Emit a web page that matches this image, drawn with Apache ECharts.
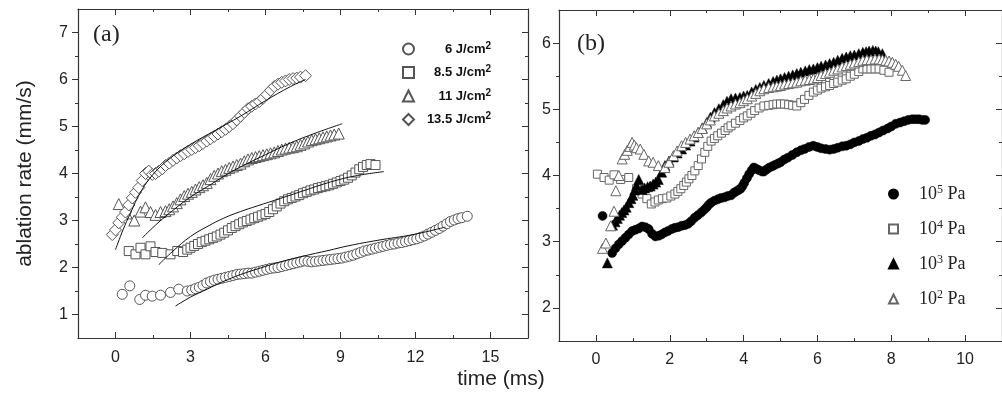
<!DOCTYPE html>
<html>
<head>
<meta charset="utf-8">
<script src="https://cdn.jsdelivr.net/npm/echarts@6/dist/echarts.min.js"></script>
<style>
  html, body { margin: 0; padding: 0; background: #fff; }
  #chart { width: 1002px; height: 405px; }
</style>
</head>
<body>
<div id="chart"></div>
<script>
// panel (a): ablation rate vs time for four laser fluences
var fluence6 = [[0.27,1.43],[0.57,1.61],[0.97,1.32],[1.2,1.41],[1.47,1.39],[1.8,1.41],[2.2,1.47],[2.53,1.54],[2.87,1.50],
  [3.05,1.52],[3.2,1.55],[3.35,1.58],[3.5,1.62],[3.65,1.67],[3.8,1.70],[3.95,1.73],[4.1,1.75],[4.25,1.77],[4.4,1.79],
  [4.55,1.81],[4.7,1.83],[4.85,1.85],[5.0,1.86],[5.15,1.87],[5.3,1.88],[5.45,1.88],[5.6,1.9],[5.75,1.92],[5.9,1.94],
  [6.05,1.96],[6.2,1.98],[6.35,1.99],[6.5,2.0],[6.65,2.02],[6.8,2.04],[6.95,2.06],[7.1,2.08],[7.25,2.1],[7.4,2.12],
  [7.55,2.14],[7.7,2.13],[7.85,2.12],[8.0,2.13],[8.15,2.14],[8.3,2.15],[8.45,2.16],[8.6,2.17],[8.75,2.18],[8.9,2.19],
  [9.05,2.2],[9.2,2.22],[9.35,2.24],[9.5,2.26],[9.65,2.29],[9.8,2.32],[9.95,2.35],[10.1,2.37],[10.25,2.39],[10.4,2.41],
  [10.55,2.43],[10.7,2.45],[10.85,2.47],[11.0,2.49],[11.15,2.5],[11.3,2.52],[11.45,2.53],[11.6,2.55],[11.75,2.57],
  [11.9,2.59],[12.05,2.61],[12.2,2.64],[12.35,2.67],[12.5,2.71],[12.65,2.75],[12.8,2.79],[12.95,2.83],[13.1,2.88],
  [13.25,2.93],[13.4,2.98],[13.55,3.01],[13.7,3.04],[13.85,3.06],[14.07,3.09]];
var fluence85 = [[0.53,2.35],[0.8,2.28],[1.0,2.42],[1.2,2.28],[1.4,2.45],[1.6,2.33],[1.87,2.31],[2.2,2.28],[2.47,2.35],
  [2.7,2.33],[2.87,2.38],[3.0,2.42],[3.15,2.46],[3.3,2.5],[3.45,2.54],[3.6,2.57],[3.75,2.6],[3.9,2.63],[4.05,2.66],
  [4.2,2.7],[4.35,2.74],[4.5,2.79],[4.65,2.84],[4.8,2.88],[4.95,2.92],[5.1,2.96],[5.25,2.99],[5.4,3.02],[5.55,3.05],
  [5.7,3.08],[5.85,3.11],[6.0,3.14],[6.15,3.18],[6.3,3.24],[6.45,3.3],[6.6,3.36],[6.75,3.41],[6.9,3.45],[7.05,3.48],
  [7.2,3.51],[7.35,3.54],[7.5,3.58],[7.65,3.61],[7.8,3.64],[7.95,3.66],[8.1,3.69],[8.25,3.71],[8.4,3.73],[8.55,3.75],
  [8.7,3.78],[8.85,3.81],[9.0,3.84],[9.15,3.87],[9.3,3.91],[9.45,3.96],[9.6,4.02],[9.75,4.09],[9.9,4.14],[10.05,4.18],
  [10.2,4.2],[10.4,4.18]];
var fluence11 = [[0.13,3.35],[0.45,3.15],[0.75,3.0],[1.0,3.19],[1.2,3.28],[1.4,3.18],[1.6,3.12],[1.8,3.18],[2.0,3.2],
  [2.15,3.24],[2.3,3.3],[2.45,3.37],[2.6,3.45],[2.75,3.52],[2.9,3.57],[3.05,3.61],[3.2,3.66],[3.35,3.71],[3.5,3.75],
  [3.65,3.8],[3.8,3.88],[3.95,3.95],[4.1,4.0],[4.25,4.05],[4.4,4.08],[4.55,4.12],[4.7,4.15],[4.85,4.18],[5.0,4.21],
  [5.15,4.26],[5.3,4.3],[5.45,4.33],[5.6,4.35],[5.75,4.37],[5.9,4.39],[6.05,4.41],[6.2,4.43],[6.35,4.45],[6.5,4.48],
  [6.65,4.51],[6.8,4.53],[6.95,4.55],[7.1,4.56],[7.25,4.58],[7.4,4.61],[7.55,4.64],[7.7,4.68],[7.85,4.71],[8.0,4.73],
  [8.15,4.75],[8.3,4.77],[8.45,4.79],[8.6,4.81],[8.75,4.83],[8.93,4.85]];
var fluence135 = [[-0.13,2.70],[0.0,2.8],[0.13,2.95],[0.27,3.07],[0.4,3.18],[0.53,3.33],[0.67,3.48],[0.8,3.6],[0.93,3.7],
  [1.07,3.85],[1.2,4.0],[1.33,4.05],[1.47,3.98],[1.6,4.0],[1.73,4.05],[1.87,4.1],[2.0,4.17],[2.15,4.22],[2.3,4.28],
  [2.45,4.33],[2.6,4.38],[2.75,4.42],[2.9,4.47],[3.05,4.51],[3.2,4.55],[3.35,4.59],[3.5,4.64],[3.65,4.69],[3.8,4.74],
  [3.95,4.79],[4.1,4.84],[4.25,4.89],[4.4,4.94],[4.55,5.0],[4.7,5.06],[4.85,5.14],[5.0,5.22],[5.15,5.3],[5.3,5.38],
  [5.45,5.43],[5.6,5.48],[5.75,5.53],[5.9,5.6],[6.05,5.68],[6.2,5.77],[6.35,5.85],[6.5,5.9],[6.65,5.94],[6.8,5.97],
  [6.95,6.0],[7.1,6.02],[7.25,6.03],[7.4,6.05],[7.6,6.08]];

// fitted curves (thin black lines)
var fit6 = [[2.4,1.18],[3.0,1.37],[3.67,1.54],[4.3,1.7],[5.0,1.85],[5.8,1.99],[6.6,2.12],[7.5,2.24],
  [8.5,2.36],[9.3,2.46],[10.5,2.58],[11.9,2.7],[13.2,2.86]];
var fit85 = [[1.73,2.06],[2.3,2.35],[3.0,2.66],[3.7,2.88],[4.33,3.05],[5.0,3.19],[5.67,3.31],[6.6,3.47],
  [7.5,3.63],[8.6,3.82],[9.6,3.95],[10.73,4.04]];
var fit11 = [[1.07,2.63],[1.7,2.95],[2.33,3.23],[3.0,3.5],[3.67,3.72],[4.33,3.94],[5.0,4.14],[6.0,4.4],
  [7.0,4.65],[8.0,4.86],[9.07,5.06]];
var fit135 = [[0,2.38],[0.3,2.8],[0.6,3.16],[1.0,3.6],[1.5,3.98],[2.2,4.33],[3.0,4.62],[4.0,4.92],
  [5.0,5.22],[6.0,5.55],[7.0,5.85],[7.6,6.0]];

// panel (b): ablation rate vs time for four pressures
var pa5 = [[0.18,3.39],[0.44,2.83],[0.53,2.9],[0.62,2.96],[0.71,3.01],[0.8,3.06],[0.89,3.11],[0.98,3.16],[1.07,3.18],
  [1.16,3.2],[1.25,3.23],[1.34,3.22],[1.43,3.19],[1.52,3.12],[1.61,3.08],[1.7,3.09],[1.78,3.11],[1.87,3.14],[1.95,3.16],
  [2.05,3.19],[2.14,3.21],[2.23,3.22],[2.32,3.24],[2.41,3.25],[2.5,3.27],[2.58,3.31],[2.67,3.36],[2.76,3.4],[2.85,3.44],
  [2.93,3.48],[3.0,3.52],[3.06,3.56],[3.12,3.59],[3.21,3.62],[3.3,3.64],[3.39,3.66],[3.48,3.67],[3.57,3.69],[3.66,3.7],
  [3.74,3.74],[3.8,3.76],[3.86,3.78],[3.92,3.8],[3.97,3.84],[4.02,3.89],[4.09,3.96],[4.15,4.02],[4.22,4.08],[4.28,4.12],
  [4.35,4.1],[4.42,4.08],[4.5,4.06],[4.55,4.06],[4.62,4.09],[4.7,4.12],[4.78,4.14],[4.85,4.16],[4.93,4.18],[5.0,4.2],
  [5.1,4.24],[5.2,4.27],[5.32,4.31],[5.44,4.35],[5.55,4.38],[5.65,4.4],[5.77,4.43],[5.89,4.45],[6.0,4.43],[6.1,4.41],
  [6.22,4.4],[6.33,4.39],[6.44,4.4],[6.55,4.42],[6.67,4.44],[6.78,4.45],[6.89,4.47],[7.0,4.5],[7.12,4.52],[7.23,4.55],
  [7.34,4.57],[7.45,4.6],[7.56,4.62],[7.67,4.65],[7.78,4.68],[7.9,4.71],[8.0,4.74],[8.12,4.78],[8.24,4.8],[8.35,4.82],
  [8.46,4.84],[8.57,4.85],[8.66,4.85],[8.75,4.85],[8.84,4.84],[8.92,4.84]];
var pa4 = [[0.04,4.02],[0.22,3.97],[0.36,3.93],[0.49,4.01],[0.67,3.94],[0.89,3.97],[1.1,3.8],[1.25,3.72],[1.38,3.65],
  [1.5,3.57],[1.6,3.6],[1.69,3.63],[1.8,3.65],[1.92,3.66],[2.03,3.69],[2.14,3.72],[2.22,3.76],[2.3,3.8],[2.38,3.85],
  [2.45,3.9],[2.52,3.95],[2.6,4.0],[2.68,4.07],[2.77,4.15],[2.86,4.25],[2.95,4.35],[3.03,4.44],[3.12,4.52],[3.21,4.56],
  [3.3,4.6],[3.4,4.64],[3.5,4.68],[3.58,4.72],[3.66,4.75],[3.78,4.79],[3.9,4.83],[4.0,4.87],[4.1,4.9],[4.2,4.94],
  [4.3,4.98],[4.42,5.02],[4.55,5.05],[4.68,5.06],[4.8,5.07],[4.9,5.08],[5.0,5.08],[5.11,5.08],[5.22,5.07],[5.33,5.06],
  [5.44,5.05],[5.55,5.1],[5.65,5.15],[5.77,5.21],[5.89,5.26],[6.0,5.29],[6.1,5.32],[6.22,5.34],[6.33,5.36],[6.44,5.39],
  [6.55,5.41],[6.67,5.44],[6.78,5.46],[6.89,5.5],[7.0,5.53],[7.12,5.57],[7.23,5.61],[7.34,5.61],[7.45,5.61],[7.56,5.61],
  [7.67,5.61],[7.8,5.59],[7.94,5.56]];
var pa3 = [[0.31,2.68],[0.45,3.25],[0.52,3.3],[0.58,3.35],[0.64,3.4],[0.7,3.44],[0.76,3.48],[0.82,3.52],[0.89,3.59],
  [0.95,3.65],[1.0,3.7],[1.05,3.78],[1.1,3.85],[1.16,3.94],[1.25,3.79],[1.32,3.81],[1.4,3.83],[1.47,3.84],[1.55,3.87],
  [1.62,3.9],[1.69,3.94],[1.78,4.05],[1.87,4.15],[1.98,4.22],[2.1,4.28],[2.2,4.34],[2.32,4.4],[2.43,4.46],[2.55,4.52],
  [2.66,4.58],[2.77,4.65],[2.88,4.72],[3.0,4.8],[3.1,4.88],[3.21,4.95],[3.33,5.01],[3.45,5.07],[3.55,5.12],[3.66,5.16],
  [3.78,5.17],[3.9,5.18],[4.0,5.2],[4.1,5.21],[4.22,5.26],[4.33,5.3],[4.44,5.33],[4.55,5.36],[4.68,5.39],[4.8,5.42],
  [4.9,5.44],[5.0,5.46],[5.11,5.48],[5.22,5.5],[5.33,5.52],[5.44,5.54],[5.55,5.56],[5.67,5.58],[5.78,5.6],[5.89,5.61],
  [6.0,5.63],[6.1,5.65],[6.22,5.67],[6.33,5.69],[6.44,5.71],[6.55,5.74],[6.67,5.77],[6.78,5.79],[6.89,5.81],[7.0,5.82],
  [7.12,5.84],[7.23,5.86],[7.32,5.87],[7.4,5.88],[7.5,5.89],[7.58,5.88],[7.65,5.87],[7.76,5.84]];
var pa2 = [[0.18,2.9],[0.27,2.98],[0.4,3.24],[0.49,3.46],[0.54,3.77],[0.62,4.0],[0.71,4.25],[0.78,4.32],[0.85,4.38],
  [0.92,4.44],[0.98,4.5],[1.04,4.46],[1.1,4.42],[1.2,4.4],[1.3,4.32],[1.43,4.22],[1.55,4.2],[1.69,4.15],[1.87,4.12],
  [1.98,4.2],[2.1,4.3],[2.2,4.37],[2.32,4.45],[2.43,4.5],[2.55,4.55],[2.66,4.6],[2.77,4.65],[2.88,4.71],[3.0,4.78],
  [3.1,4.84],[3.21,4.9],[3.33,4.94],[3.45,4.98],[3.55,5.02],[3.66,5.05],[3.78,5.08],[3.9,5.1],[4.0,5.13],[4.1,5.16],
  [4.22,5.2],[4.33,5.24],[4.44,5.28],[4.55,5.31],[4.68,5.33],[4.8,5.34],[4.9,5.35],[5.0,5.36],[5.11,5.38],[5.22,5.39],
  [5.33,5.4],[5.44,5.41],[5.55,5.43],[5.67,5.44],[5.78,5.45],[5.89,5.46],[6.0,5.48],[6.1,5.51],[6.22,5.54],[6.33,5.56],
  [6.44,5.59],[6.55,5.61],[6.67,5.64],[6.78,5.66],[6.89,5.68],[7.0,5.7],[7.12,5.72],[7.23,5.74],[7.34,5.75],[7.45,5.75],
  [7.56,5.76],[7.67,5.76],[7.76,5.75],[7.85,5.74],[7.94,5.73],[8.03,5.71],[8.12,5.68],[8.2,5.65],[8.3,5.59],[8.39,5.51]];

// ticks
var ticksAX = [0, 3, 6, 9, 12, 15];
var minorAX = [1.5, 4.5, 7.5, 10.5, 13.5];
var ticksAY = [1, 2, 3, 4, 5, 6, 7];
var minorAY = [1.5, 2.5, 3.5, 4.5, 5.5, 6.5];
var ticksBX = [0, 2, 4, 6, 8, 10];
var minorBX = [1, 3, 5, 7, 9];
var ticksBY = [2, 3, 4, 5, 6];
var minorBY = [2.5, 3.5, 4.5, 5.5];

var AXIS_COLOR = '#333';
var SANS = 'Liberation Sans';
var SERIF = 'Liberation Serif';

// major/minor ticks on both sides of a box, labels only on the first one
function boxAxes(gridIndex, isX, min, max, major, minor, margin, extra) {
    var sides = isX ? ['bottom', 'top'] : ['left', 'right'];
    var out = [];
    sides.forEach(function (pos, s) {
        [major, minor].forEach(function (vals, m) {
            var ax = {
                type: 'value',
                gridIndex: gridIndex,
                position: pos,
                min: min,
                max: max,
                axisLine: { show: m === 0, onZero: false, lineStyle: { color: AXIS_COLOR, width: 1.2 } },
                axisTick: {
                    show: true,
                    inside: isX ? true : s === 1,
                    length: m === 0 ? 6 : 3,
                    customValues: vals,
                    lineStyle: { color: AXIS_COLOR, width: 1 }
                },
                axisLabel: {
                    show: s === 0 && m === 0,
                    customValues: major,
                    margin: margin,
                    color: '#222',
                    fontSize: 16,
                    fontFamily: SANS
                },
                splitLine: { show: false }
            };
            if (s === 0 && m === 0 && extra) Object.assign(ax, extra);
            out.push(ax);
        });
    });
    return out;
}

var xAxes = boxAxes(0, true, -1.5, 16.5, ticksAX, minorAX, 12)
    .concat(boxAxes(1, true, -1, 11, ticksBX, minorBX, 11));
var yAxes = boxAxes(0, false, 0.5, 7.5, ticksAY, minorAY, 10, {
        name: 'ablation rate (mm/s)',
        nameLocation: 'middle',
        nameGap: 42,
        nameTextStyle: { fontSize: 21, color: '#222', fontFamily: SANS }
    })
    .concat(boxAxes(1, false, 1.5, 6.5, ticksBY, minorBY, 8));

function openMarks(name, data, symbol, size, ax, edge) {
    return {
        type: 'scatter', name: name, data: data, symbol: symbol, symbolSize: size,
        xAxisIndex: ax, yAxisIndex: ax,
        itemStyle: { color: '#fff', borderColor: edge, borderWidth: 1, opacity: 1 }
    };
}
function fullMarks(name, data, symbol, size, ax) {
    return {
        type: 'scatter', name: name, data: data, symbol: symbol, symbolSize: size,
        xAxisIndex: ax, yAxisIndex: ax,
        itemStyle: { color: '#000', borderColor: '#000', borderWidth: 0.5, opacity: 1 }
    };
}
function fitLine(data) {
    return {
        type: 'line', data: data, smooth: 0.4, symbol: 'none', silent: true,
        xAxisIndex: 0, yAxisIndex: 0,
        lineStyle: { color: '#111', width: 1 }, z: 5
    };
}

var namesA = ['6 J/cm2', '8.5 J/cm2', '11 J/cm2', '13.5 J/cm2'];
var namesB = ['10^5 Pa', '10^4 Pa', '10^3 Pa', '10^2 Pa'];

var option = {
    animation: false,
    backgroundColor: '#fff',
    grid: [
        { left: 78, top: 9, width: 450, height: 329 },
        { left: 559, top: 10, width: 448, height: 331 }
    ],
    xAxis: xAxes,
    yAxis: yAxes,
    title: [
        { text: '(a)', left: 88, top: 18, textStyle: { fontFamily: SERIF, fontSize: 24, fontWeight: 'normal', color: '#222' } },
        { text: '(b)', left: 572, top: 27, textStyle: { fontFamily: SERIF, fontSize: 24, fontWeight: 'normal', color: '#222' } },
        { text: 'time (ms)', left: 'center', top: 364, textStyle: { fontFamily: SANS, fontSize: 21, fontWeight: 'normal', color: '#222' } }
    ],
    legend: [
        {
            data: namesA, orient: 'vertical', left: 397, top: 36,
            itemWidth: 11, itemHeight: 11, itemGap: 9, selectedMode: false,
            formatter: function (name) {
                return '{t|' + name.slice(0, -1) + '}{s|2}';
            },
            textStyle: {
                width: 72,
                rich: {
                    t: { fontSize: 13, fontWeight: 'bold', fontFamily: SANS, color: '#111', lineHeight: 16, align: 'right' },
                    s: { fontSize: 10, fontWeight: 'bold', fontFamily: SANS, color: '#111', verticalAlign: 'top', lineHeight: 10, align: 'right' }
                }
            }
        },
        {
            data: namesB, orient: 'vertical', left: 883, top: 179,
            itemWidth: 9, itemHeight: 9, itemGap: 16, selectedMode: false,
            formatter: function (name) {
                return '{a|10}{s|' + name.charAt(3) + '}{t| Pa}';
            },
            textStyle: {
                rich: {
                    a: { fontSize: 18, fontFamily: SERIF, color: '#222', lineHeight: 20, padding: [0, 0, 0, 16] },
                    t: { fontSize: 18, fontFamily: SERIF, color: '#222', lineHeight: 20 },
                    s: { fontSize: 12, fontFamily: SERIF, color: '#222', verticalAlign: 'top', lineHeight: 12 }
                }
            }
        }
    ],
    series: [
        openMarks(namesA[0], fluence6, 'circle', 10, 0, '#555'),
        openMarks(namesA[1], fluence85, 'rect', 9, 0, '#555'),
        openMarks(namesA[2], fluence11, 'triangle', 11, 0, '#555'),
        openMarks(namesA[3], fluence135, 'diamond', 12, 0, '#555'),
        fitLine(fit6), fitLine(fit85), fitLine(fit11), fitLine(fit135),
        fullMarks(namesB[0], pa5, 'circle', 9, 4),
        openMarks(namesB[1], pa4, 'rect', 8, 4, '#666'),
        fullMarks(namesB[2], pa3, 'triangle', 10, 4),
        openMarks(namesB[3], pa2, 'triangle', 10, 4, '#666')
    ]
};

var myChart = echarts.init(document.getElementById('chart'));
myChart.setOption(option);
</script>
</body>
</html>
